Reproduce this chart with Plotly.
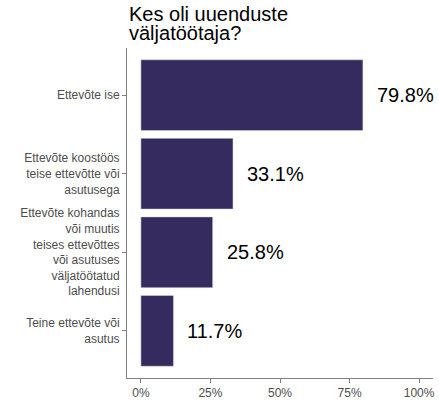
import plotly.graph_objects as go

# andmed (vastajate osakaal, %)
kategooriad = [
    "Ettevõte ise",
    "Ettevõte koostöös<br>teise ettevõtte või<br>asutusega",
    "Ettevõte kohandas<br>või muutis<br>teises ettevõttes<br>või asutuses<br>väljatöötatud<br>lahendusi",
    "Teine ettevõte või<br>asutus",
]
osakaal = [79.8, 33.1, 25.8, 11.7]
x_ticks = [0, 25, 50, 75, 100]
x_tick_labels = ["0%", "25%", "50%", "75%", "100%"]
pealkiri = ["Kes oli uuenduste", "väljatöötaja?"]

bar_color = "#352B5E"
font_family = "Liberation Sans, Arial, sans-serif"

fig = go.Figure()
fig.add_trace(go.Bar(
    x=osakaal,
    y=kategooriad,
    orientation="h",
    width=0.9,
    marker=dict(color=bar_color, line=dict(color="#dcdcdc", width=0.5)),
    hoverinfo="x+y",
))

# protsendid tulpade kõrval
for k, v in zip(kategooriad, osakaal):
    fig.add_annotation(
        x=v, y=k, text=f"{v:.1f}%",
        xanchor="left", yanchor="middle", xshift=12,
        showarrow=False,
        font=dict(size=20, color="black", family=font_family),
    )

# pealkiri kahel real (tihedam reavahe kui plotly vaikimisi)
for rida, nihe in zip(pealkiri, [34, 15]):
    fig.add_annotation(
        text=rida, xref="paper", yref="paper", x=0, y=1,
        xanchor="left", yanchor="middle", yshift=nihe,
        showarrow=False,
        font=dict(size=20, color="black", family=font_family),
    )

fig.update_layout(
    width=439, height=406,
    margin=dict(l=127, r=4, t=48, b=28),
    paper_bgcolor="white", plot_bgcolor="white",
    font=dict(family=font_family),
    showlegend=False,
    xaxis=dict(
        range=[-5, 105],
        tickvals=x_ticks, ticktext=x_tick_labels,
        showgrid=False, zeroline=False,
        showline=True, linecolor="#808080", linewidth=1,
        ticks="outside", ticklen=4, tickcolor="#808080",
        tickfont=dict(size=12, color="#4D4D4D"),
    ),
    yaxis=dict(
        categoryorder="array", categoryarray=kategooriad[::-1],
        range=[-0.6, 3.6],
        showgrid=False, zeroline=False,
        showline=True, linecolor="#808080", linewidth=1,
        ticks="outside", ticklen=4, tickcolor="#808080",
        tickfont=dict(size=12, color="#4D4D4D"),
    ),
)

# body vaikimisi 8px serv nihutab joonist, võtame selle ära
fig.write_html("out.html", config={"displayModeBar": False},
               post_script="document.body.style.margin='0';")
